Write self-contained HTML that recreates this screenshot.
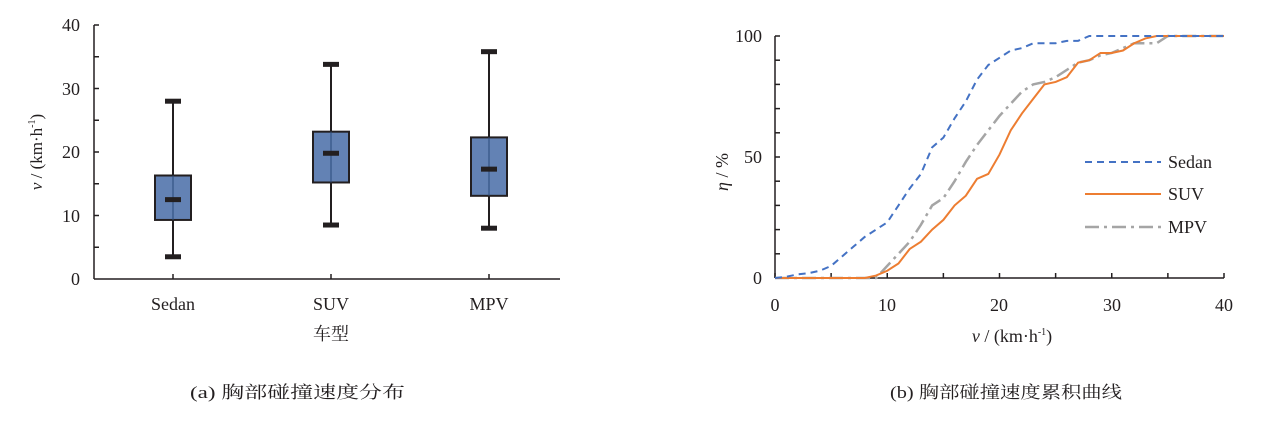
<!DOCTYPE html>
<html><head><meta charset="utf-8"><style>
html,body{margin:0;padding:0;background:#fff;}
svg text{font-family:"Liberation Serif","Noto Serif CJK SC",serif;fill:#231f20;}
</style></head><body>
<svg id="s" width="1270" height="428" viewBox="0 0 1270 428" xmlns="http://www.w3.org/2000/svg">
<!-- left chart -->
<g stroke="#231f20" stroke-width="1.5" fill="none">
<line x1="94" y1="25" x2="94" y2="279"/>
<line x1="94" y1="279" x2="560" y2="279"/>
<line x1="94" y1="25" x2="99" y2="25"/>
<line x1="94" y1="56.75" x2="99" y2="56.75"/>
<line x1="94" y1="88.5" x2="99" y2="88.5"/>
<line x1="94" y1="120.25" x2="99" y2="120.25"/>
<line x1="94" y1="152" x2="99" y2="152"/>
<line x1="94" y1="183.75" x2="99" y2="183.75"/>
<line x1="94" y1="215.5" x2="99" y2="215.5"/>
<line x1="94" y1="247.25" x2="99" y2="247.25"/>
<line x1="173" y1="279" x2="173" y2="274"/>
<line x1="331" y1="279" x2="331" y2="274"/>
<line x1="489" y1="279" x2="489" y2="274"/>
</g>
<g font-size="18" text-anchor="end">
<text x="80" y="31">40</text><text x="80" y="95">30</text><text x="80" y="158">20</text><text x="80" y="222">10</text><text x="80" y="285">0</text>
</g>
<g font-size="18" text-anchor="middle">
<text x="173" y="310">Sedan</text><text x="331" y="310">SUV</text><text x="489" y="310">MPV</text>
<text x="331" y="340" font-size="18">车型</text>
</g>
<text transform="translate(42,152) rotate(-90)" font-size="17" text-anchor="middle"><tspan font-style="italic">v</tspan> / (km·h<tspan font-size="10" dy="-7">-1</tspan><tspan dy="7">)</tspan></text>
<g id="boxes"></g>
<!-- right chart -->
<g stroke="#231f20" stroke-width="1.5" fill="none">
<line x1="775" y1="36" x2="775" y2="278"/>
<line x1="775" y1="278" x2="1224" y2="278"/>
</g>
<g id="rt" stroke="#231f20" stroke-width="1.5"></g>
<g font-size="18" text-anchor="end">
<text x="762" y="42">100</text><text x="762" y="163">50</text><text x="762" y="284">0</text>
</g>
<g font-size="18" text-anchor="middle">
<text x="775" y="311">0</text><text x="887" y="311">10</text><text x="999" y="311">20</text><text x="1112" y="311">30</text><text x="1224" y="311">40</text>
</g>
<text x="1012" y="342" font-size="18" text-anchor="middle"><tspan font-style="italic">v</tspan> / (km·h<tspan font-size="10" dy="-7">-1</tspan><tspan dy="7">)</tspan></text>
<text transform="translate(728,172) rotate(-90)" font-size="18" text-anchor="middle"><tspan font-style="italic">η</tspan> / %</text>
<g id="curves" fill="none" stroke-width="2"></g>
<line x1="1085" y1="162" x2="1161" y2="162" stroke="#4472c4" stroke-width="2" stroke-dasharray="7,5"/>
<line x1="1085" y1="194" x2="1161" y2="194" stroke="#ed7d31" stroke-width="2"/>
<line x1="1085" y1="227" x2="1161" y2="227" stroke="#a5a5a5" stroke-width="2.5" stroke-dasharray="14,5,3,5"/>
<g font-size="18"><text x="1168" y="168">Sedan</text><text x="1168" y="200">SUV</text><text x="1168" y="233">MPV</text></g>
<text x="190" y="398" font-size="17" textLength="215" lengthAdjust="spacingAndGlyphs">(a) 胸部碰撞速度分布</text>
<text x="890" y="398" font-size="17" textLength="232" lengthAdjust="spacingAndGlyphs">(b) 胸部碰撞速度累积曲线</text>
</svg>
<script>
var NS="http://www.w3.org/2000/svg";
function el(p,t,a){var e=document.createElementNS(NS,t);for(var k in a)e.setAttribute(k,a[k]);p.appendChild(e);return e;}
var Y=function(v){return 279-v*6.35;};
var B=document.getElementById('boxes');
[[173,3.5,9.3,12.5,16.3,28],[331,8.5,15.2,19.8,23.2,33.8],[489,8,13.1,17.3,22.3,35.8]].forEach(function(d){
var x=d[0];
el(B,'line',{x1:x,y1:Y(d[1]),x2:x,y2:Y(d[5]),stroke:'#231f20','stroke-width':2});
el(B,'rect',{x:x-18,y:Y(d[4]),width:36,height:Y(d[2])-Y(d[4]),fill:'#6382b4',stroke:'#231f20','stroke-width':2});
el(B,'line',{x1:x,y1:Y(d[2]),x2:x,y2:Y(d[4]),stroke:'#2a4a7a','stroke-width':1});
[d[1],d[3],d[5]].forEach(function(v){el(B,'line',{x1:x-8,y1:Y(v),x2:x+8,y2:Y(v),stroke:'#231f20','stroke-width':5});});
});
var R=document.getElementById('rt');
for(var i=0;i<=8;i++){var x=775+i*56.125;el(R,'line',{x1:x,y1:278,x2:x,y2:273});}
for(var j=0;j<=10;j++){var y=278-j*24.2;el(R,'line',{x1:775,y1:y,x2:780,y2:y});}
var X=function(v){return 775+v*11.225;},H=function(e){return 278-e*2.42;};
var sed=[[0,0],[1,.5],[2,1.5],[3,2],[4,3],[5,5],[6,9],[7,13],[8,17],[9,20],[10,23],[11,30],[12,37],[13,43],[14,54],[15,58],[16,66],[17,73],[18,82],[19,88],[20,91],[21,94],[22,95],[23,97],[24,97],[25,97],[26,98],[27,98],[28,100],[40,100]];
var suv=[[0,0],[8,0],[9,1],[10,3],[11,6],[12,12],[13,15],[14,20],[15,24],[16,30],[17,34],[18,41],[19,43],[20,51],[21,61],[22,68],[23,74],[24,80],[25,81],[26,83],[27,89],[28,90],[29,93],[30,93],[31,94],[32,97],[33,99],[34,100],[40,100]];
var mpv=[[0,0],[9,0],[10,5],[11,10],[12,15],[13,22],[14,30],[15,33],[16,40],[17,48],[18,55],[19,61],[20,67],[21,72],[22,77],[23,80],[24,81],[25,83],[26,86],[27,89],[28,90],[29,92],[30,93],[31,95],[32,97],[33,97],[34,97],[35,100],[40,100]];
var C=document.getElementById('curves');
function pl(d,a){a.points=d.map(function(p){return X(p[0])+','+H(p[1]);}).join(' ');el(C,'polyline',a);}
pl(mpv,{stroke:'#a5a5a5','stroke-width':2.5,'stroke-dasharray':'14,5,3,5'});
pl(suv,{stroke:'#ed7d31','stroke-width':2});
pl(sed,{stroke:'#4472c4','stroke-width':2,'stroke-dasharray':'7,5'});
</script>
</body></html>
